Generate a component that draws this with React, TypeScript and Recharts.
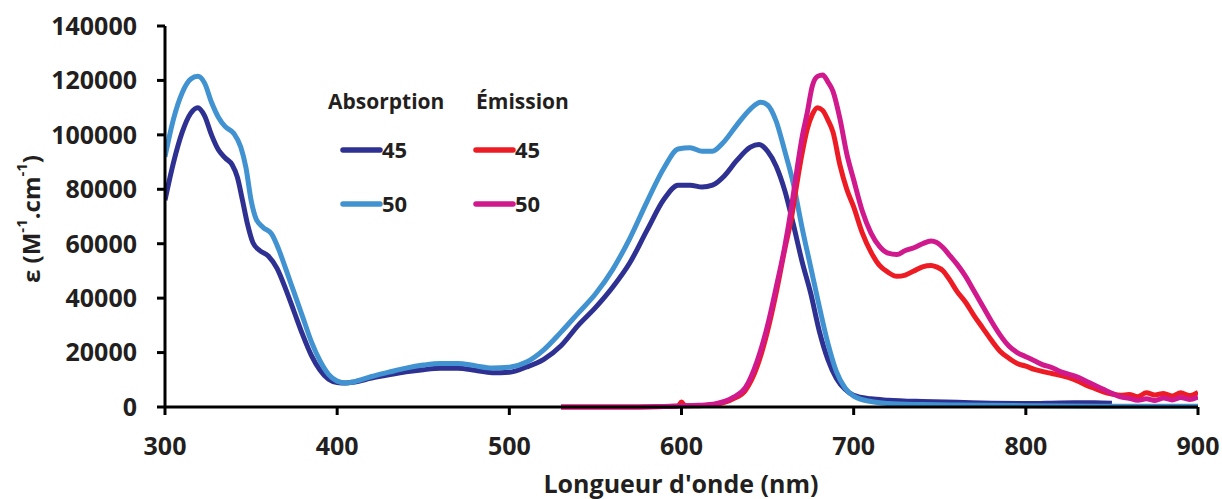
import { LineChart, Line, XAxis, YAxis } from "recharts"

// absorption, 45 (nm, epsilon)
const abs45 = [
  [300, 76000], [305, 90000], [310, 101000], [315, 108000], [319, 110000], [323, 107000],
  [327, 100000], [331, 94500], [335, 91500], [339, 89000], [342, 84500], [345, 76000],
  [348, 67000], [351, 60500], [355, 57500], [360, 55500], [365, 51000], [370, 43500],
  [375, 35000], [380, 26500], [385, 19000], [390, 13600], [395, 10200], [400, 9000],
  [405, 8800], [410, 9200], [420, 10600], [430, 11800], [440, 12900], [450, 13700],
  [460, 14200], [470, 14200], [480, 13500], [490, 12600], [500, 12800], [510, 14700],
  [520, 17500], [530, 22500], [540, 30000], [550, 36500], [560, 44000], [570, 53000],
  [580, 65000], [590, 76500], [598, 81500], [605, 81500], [612, 80800], [618, 81500],
  [625, 85000], [632, 90500], [640, 95500], [645, 96500], [650, 94000], [655, 88500],
  [660, 79500], [665, 67000], [670, 53500], [675, 41900], [680, 28000], [685, 17500],
  [690, 10500], [695, 6500], [700, 4300], [710, 3000], [720, 2500], [740, 2000],
  [760, 1700], [780, 1400], [800, 1300], [820, 1500], [840, 1600], [850, 1400],
]

// absorption, 50
const abs50 = [
  [300, 92000], [305, 106000], [310, 115500], [315, 120500], [319, 121500], [323, 119000],
  [327, 112000], [331, 106500], [335, 103000], [340, 100500], [344, 95500], [347, 88000],
  [350, 76000], [353, 69000], [357, 66000], [362, 63500], [366, 58000], [370, 51000],
  [375, 42000], [380, 33000], [385, 24000], [390, 17000], [395, 12000], [400, 9500],
  [405, 8800], [410, 9300], [420, 11200], [430, 12800], [440, 14300], [450, 15400],
  [460, 16000], [470, 16000], [480, 15200], [490, 14300], [500, 14600], [510, 16500],
  [520, 21000], [530, 27500], [540, 34500], [550, 41500], [560, 50500], [570, 62000],
  [580, 75500], [590, 88000], [598, 94800], [605, 95300], [612, 94000], [618, 94000],
  [624, 97000], [632, 103500], [640, 109500], [646, 112000], [650, 111000], [655, 105000],
  [660, 94000], [665, 82000], [670, 66000], [675, 51500], [680, 37000], [685, 23500],
  [690, 13000], [695, 7000], [700, 4000], [710, 2000], [720, 1300], [740, 900],
  [760, 700], [800, 500], [850, 300], [900, 300],
]

// emission, 45
const em45 = [
  [530, 0], [560, 0], [590, 200], [598, 400], [600, 1800], [602, 500], [610, 500],
  [620, 1000], [630, 3000], [637, 6000], [644, 15000], [650, 28000], [655, 42000],
  [660, 58000], [664, 70000], [667, 82000], [670, 93000], [673, 102000], [676, 107500],
  [679, 110000], [682, 109000], [685, 105500], [688, 101000], [692, 89000], [696, 80000],
  [700, 73500], [705, 64000], [710, 57000], [715, 52000], [720, 49500], [725, 48000],
  [730, 48500], [735, 50000], [740, 51500], [745, 52000], [748, 51500], [752, 50000],
  [756, 46500], [760, 42500], [765, 38500], [770, 33500], [775, 29000], [780, 24500],
  [785, 20500], [790, 18000], [795, 16000], [800, 15000], [805, 13800], [810, 13000],
  [815, 12300], [820, 11600], [825, 10800], [830, 9600], [835, 8000], [840, 6800],
  [845, 5600], [850, 4800], [855, 4300], [860, 4600], [865, 3800], [870, 5200],
  [875, 4400], [880, 5000], [885, 4000], [890, 5200], [895, 4200], [900, 5400],
]

// emission, 50
const em50 = [
  [530, 0], [560, 0], [590, 200], [610, 600], [620, 1200], [630, 3500], [637, 7000],
  [644, 17000], [650, 30000], [655, 44000], [660, 59000], [664, 74000], [667, 87000],
  [670, 99000], [673, 108000], [676, 118000], [679, 121500], [682, 122000], [685, 119500],
  [688, 116000], [692, 106000], [696, 93000], [700, 83500], [705, 72000], [710, 64000],
  [715, 59000], [720, 56500], [725, 56000], [730, 57500], [735, 58500], [740, 60000],
  [745, 61000], [748, 60500], [752, 58500], [756, 55500], [760, 52500], [765, 48000],
  [770, 42500], [775, 37000], [780, 31500], [785, 26500], [790, 22500], [795, 20000],
  [800, 18500], [805, 17000], [810, 15500], [815, 14500], [820, 13000], [825, 12000],
  [830, 11000], [835, 9500], [840, 8000], [845, 6500], [850, 5000], [855, 3700],
  [860, 3200], [865, 2500], [870, 3000], [875, 2400], [880, 3300], [885, 2600],
  [890, 3500], [895, 2800], [900, 3700],
]

const xTicks = [300, 400, 500, 600, 700, 800, 900]
const yTicks = [0, 20000, 40000, 60000, 80000, 100000, 120000, 140000]

const series = [
  { key: "a45", group: "Absorption", name: "45", color: "#2E3192", data: abs45 },
  { key: "a50", group: "Absorption", name: "50", color: "#4192D0", data: abs50 },
  { key: "e45", group: "Émission", name: "45", color: "#ED1C24", data: em45 },
  { key: "e50", group: "Émission", name: "50", color: "#D0198D", data: em50 },
]

const font = "'Open Sans', sans-serif"
const ink = "#231F20"

const toRows = (pts: number[][]) => pts.map(([x, y]) => ({ x, y }))

function YLabel() {
  return (
    <text
      transform="translate(30,219) rotate(-90)"
      textAnchor="middle"
      dominantBaseline="central"
      fontFamily={font}
      fontWeight={700}
      fontSize={24}
      fill={ink}
    >
      ε (M<tspan dy={-9} fontSize={15}>-1</tspan>
      <tspan dy={9}>.cm</tspan>
      <tspan dy={-9} fontSize={15}>-1</tspan>
      <tspan dy={9}>)</tspan>
    </text>
  )
}

function XLabel() {
  return (
    <text x={681} y={493} textAnchor="middle" fontFamily={font} fontWeight={700} fontSize={25} fill={ink}>
      Longueur d'onde (nm)
    </text>
  )
}

function Key() {
  const groups = [
    { title: "Absorption", x: 328, lx: 343 },
    { title: "Émission", x: 476, lx: 476 },
  ]
  return (
    <svg width={1222} height={499} style={{ position: "absolute", left: 0, top: 0, pointerEvents: "none" }}>
      {groups.map((g) => (
        <g key={g.title} fontFamily={font} fontWeight={700} fill={ink}>
          <text x={g.x} y={109} fontSize={21}>{g.title}</text>
          {series
            .filter((s) => s.group === g.title)
            .map((s, i) => {
              const ly = 150 + i * 54
              return (
                <g key={s.key}>
                  <line x1={g.lx} x2={g.lx + 37} y1={ly} y2={ly} stroke={s.color} strokeWidth={5.5} strokeLinecap="round" />
                  <text x={g.lx + 39} y={ly + 8} fontSize={22}>{s.name}</text>
                </g>
              )
            })}
        </g>
      ))}
    </svg>
  )
}

export default function App() {
  return (
    <div style={{ position: "absolute", left: 0, top: 0, width: 1222, height: 499, background: "#fff" }}>
      <LineChart width={1222} height={499} margin={{ top: 26, right: 24, left: 0, bottom: 0 }}>
        <XAxis
          type="number"
          dataKey="x"
          domain={[300, 900]}
          ticks={xTicks}
          allowDataOverflow
          height={92}
          axisLine={{ stroke: "#000", strokeWidth: 3 }}
          tickLine={{ stroke: "#000", strokeWidth: 3 }}
          tickSize={8}
          tickMargin={22}
          tick={{ fill: ink, fontSize: 25, fontWeight: 700, fontFamily: font }}
          label={<XLabel />}
        />
        <YAxis
          type="number"
          domain={[0, 140000]}
          ticks={yTicks}
          width={165}
          axisLine={{ stroke: "#000", strokeWidth: 3 }}
          tickLine={{ stroke: "#000", strokeWidth: 3 }}
          tickSize={8}
          tickMargin={20}
          tick={{ fill: ink, fontSize: 25, fontWeight: 700, fontFamily: font }}
          label={<YLabel />}
        />
        {series.map((s) => (
          <Line
            key={s.key}
            data={toRows(s.data)}
            dataKey="y"
            type="monotone"
            stroke={s.color}
            strokeWidth={5}
            strokeLinejoin="round"
            dot={false}
            activeDot={false}
            isAnimationActive={false}
          />
        ))}
      </LineChart>
      <Key />
    </div>
  )
}
